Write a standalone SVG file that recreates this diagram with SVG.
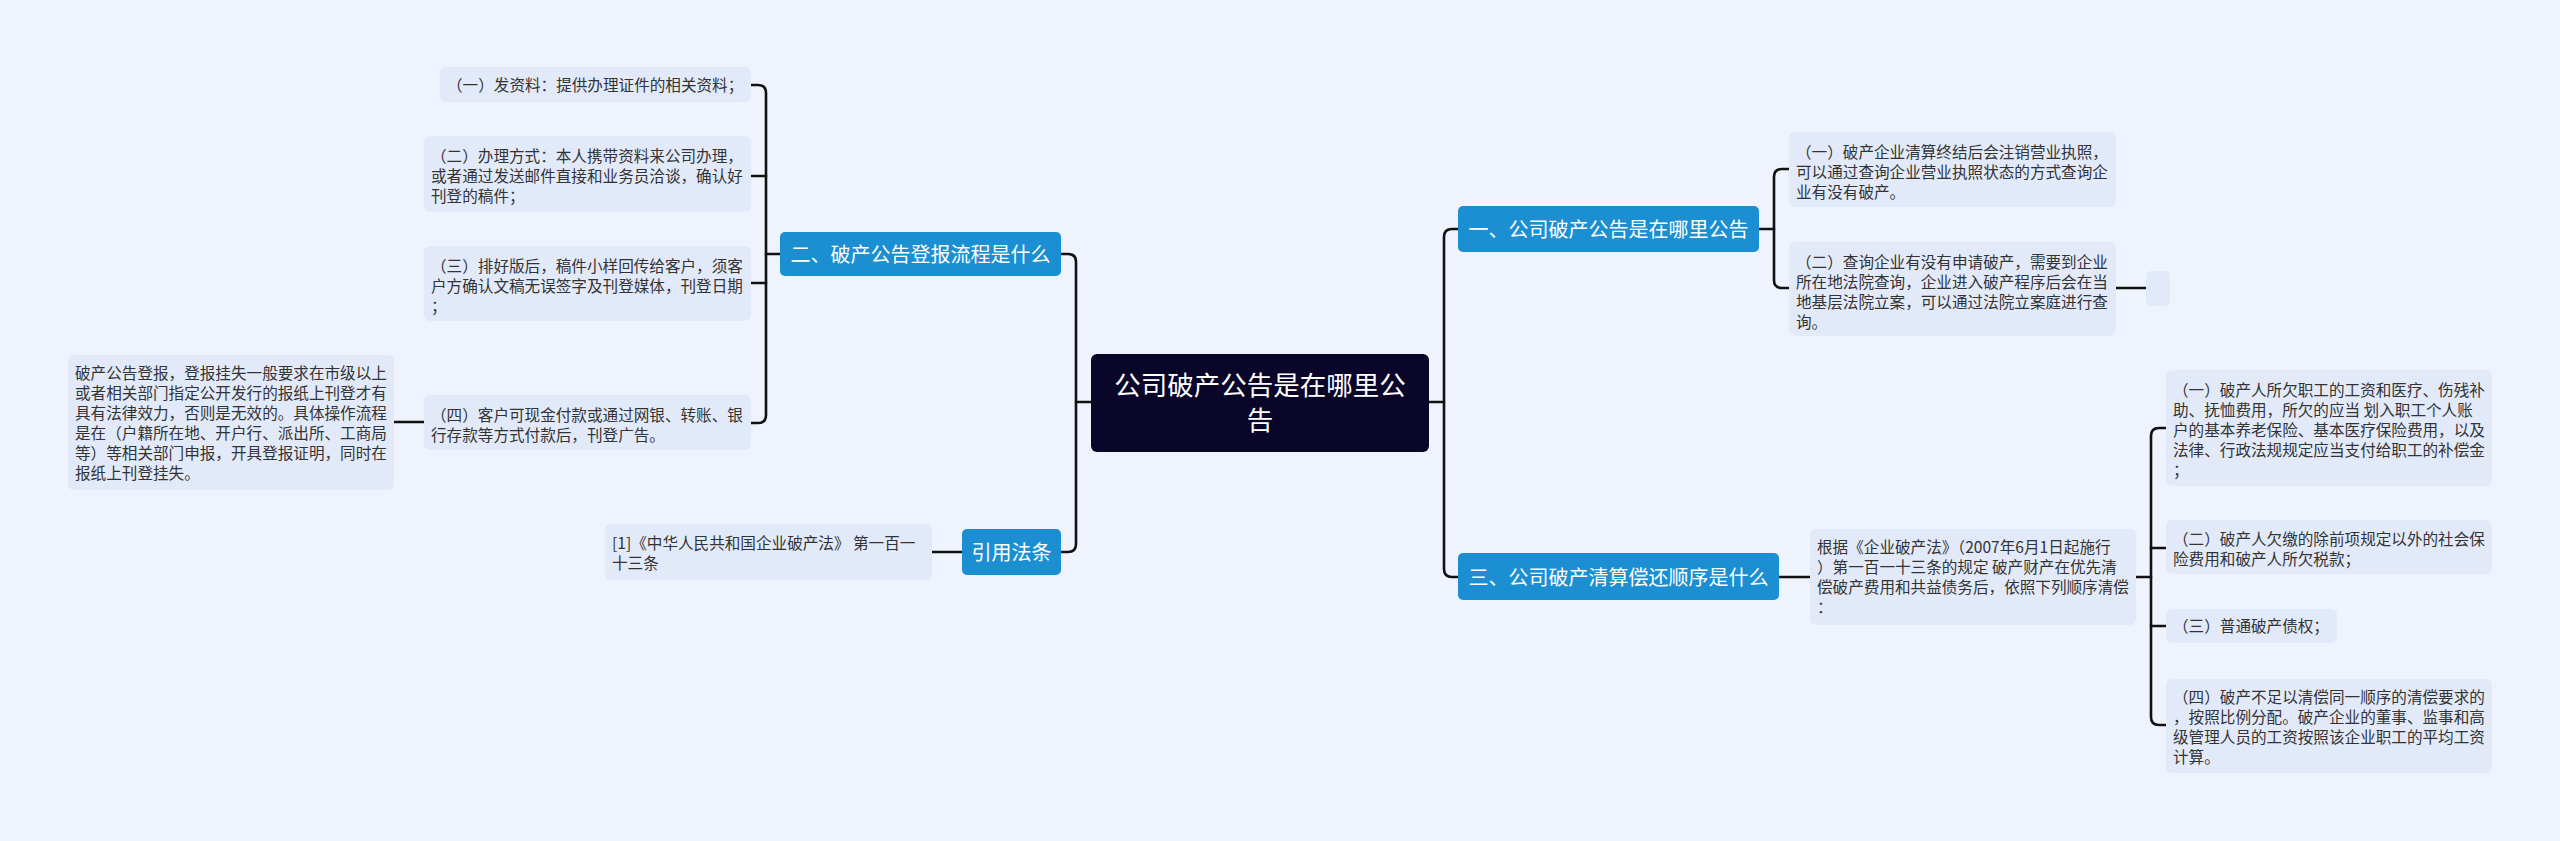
<svg xmlns="http://www.w3.org/2000/svg" width="2560" height="841" viewBox="0 0 2560 841">
<style>
.bg{fill:#eef3fd}
.leaf{fill:#e2eafa}
.br{fill:#1b8fd2}
.root{fill:#0a0629}
.lt{font-family:"Noto Sans CJK SC","Noto Sans",sans-serif;font-size:15.6px;fill:#333333}
.bt{font-family:"Noto Sans CJK SC","Noto Sans",sans-serif;font-size:20px;fill:#ffffff}
.rt{font-family:"Noto Sans CJK SC","Noto Sans",sans-serif;font-size:26.5px;fill:#ffffff}
.c{fill:none;stroke:#111111;stroke-width:2.6;stroke-linecap:round;stroke-linejoin:round}
</style>
<rect class="bg" x="0" y="0" width="2560" height="841"/>
<g id="connectors">
<path class="c" d="M1091,402 H1076"/>
<path class="c" d="M1061,254 H1068 Q1076,254 1076,262 V544 Q1076,552 1068,552 H1061"/>
<path class="c" d="M1429,402 H1444"/>
<path class="c" d="M1458,229 H1452 Q1444,229 1444,237 V569 Q1444,577 1452,577 H1458"/>
<path class="c" d="M780,254 H766"/>
<path class="c" d="M751,85 H758 Q766,85 766,93 V415 Q766,423 758,423 H751"/>
<path class="c" d="M751,176 H766"/>
<path class="c" d="M751,283 H766"/>
<path class="c" d="M424,422 H394"/>
<path class="c" d="M962,552 H932"/>
<path class="c" d="M1759,229 H1774"/>
<path class="c" d="M1789,169 H1782 Q1774,169 1774,177 V280 Q1774,288 1782,288 H1789"/>
<path class="c" d="M2116,288 H2146"/>
<path class="c" d="M1779,577 H1810"/>
<path class="c" d="M2136,577 H2151"/>
<path class="c" d="M2166,428 H2159 Q2151,428 2151,436 V717 Q2151,725 2159,725 H2166"/>
<path class="c" d="M2151,548 H2166"/>
<path class="c" d="M2151,626 H2166"/>
</g>
<g id="root">
<rect class="root" x="1091" y="354" width="338" height="98" rx="6"/>
<text class="rt" x="1260" y="395" text-anchor="middle">公司破产公告是在哪里公</text>
<text class="rt" x="1260" y="430" text-anchor="middle">告</text>
</g>
<g id="b2">
<rect class="br" x="780" y="232" width="281" height="44" rx="5"/>
<text class="bt" x="920.5" y="261.5" text-anchor="middle">二、破产公告登报流程是什么</text>
</g>
<g id="bref">
<rect class="br" x="962" y="529" width="99" height="46" rx="5"/>
<text class="bt" x="1011.5" y="559.5" text-anchor="middle">引用法条</text>
</g>
<g id="b1">
<rect class="br" x="1458" y="206" width="301" height="46" rx="5"/>
<text class="bt" x="1608.5" y="236.5" text-anchor="middle">一、公司破产公告是在哪里公告</text>
</g>
<g id="b3">
<rect class="br" x="1458" y="553" width="321" height="47" rx="5"/>
<text class="bt" x="1618.5" y="584.5" text-anchor="middle">三、公司破产清算偿还顺序是什么</text>
</g>
<g id="l1">
<rect class="leaf" x="440" y="67" width="311" height="35" rx="6"/>
<text class="lt" x="447" y="91">（一）发资料：提供办理证件的相关资料；</text>
</g>
<g id="l2">
<rect class="leaf" x="424" y="136" width="327" height="76" rx="6"/>
<text class="lt" x="431" y="162">（二）办理方式：本人携带资料来公司办理，</text>
<text class="lt" x="431" y="182">或者通过发送邮件直接和业务员洽谈，确认好</text>
<text class="lt" x="431" y="202">刊登的稿件；</text>
</g>
<g id="l3">
<rect class="leaf" x="424" y="246" width="327" height="75" rx="6"/>
<text class="lt" x="431" y="272">（三）排好版后，稿件小样回传给客户，须客</text>
<text class="lt" x="431" y="292">户方确认文稿无误签字及刊登媒体，刊登日期</text>
<text class="lt" x="431" y="312">；</text>
</g>
<g id="l4">
<rect class="leaf" x="424" y="395" width="327" height="55" rx="6"/>
<text class="lt" x="431" y="421">（四）客户可现金付款或通过网银、转账、银</text>
<text class="lt" x="431" y="441">行存款等方式付款后，刊登广告。</text>
</g>
<g id="l5">
<rect class="leaf" x="68" y="355" width="326" height="135" rx="6"/>
<text class="lt" x="75" y="379">破产公告登报，登报挂失一般要求在市级以上</text>
<text class="lt" x="75" y="399">或者相关部门指定公开发行的报纸上刊登才有</text>
<text class="lt" x="75" y="419">具有法律效力，否则是无效的。具体操作流程</text>
<text class="lt" x="75" y="439">是在（户籍所在地、开户行、派出所、工商局</text>
<text class="lt" x="75" y="459">等）等相关部门申报，开具登报证明，同时在</text>
<text class="lt" x="75" y="479">报纸上刊登挂失。</text>
</g>
<g id="ref1">
<rect class="leaf" x="605" y="524" width="327" height="56" rx="6"/>
<text class="lt" x="612" y="549">[1]《中华人民共和国企业破产法》 第一百一</text>
<text class="lt" x="612" y="569">十三条</text>
</g>
<g id="r1">
<rect class="leaf" x="1789" y="132" width="327" height="75" rx="6"/>
<text class="lt" x="1796" y="158">（一）破产企业清算终结后会注销营业执照，</text>
<text class="lt" x="1796" y="178">可以通过查询企业营业执照状态的方式查询企</text>
<text class="lt" x="1796" y="198">业有没有破产。</text>
</g>
<g id="r2">
<rect class="leaf" x="1789" y="242" width="327" height="94" rx="6"/>
<text class="lt" x="1796" y="268">（二）查询企业有没有申请破产，需要到企业</text>
<text class="lt" x="1796" y="288">所在地法院查询，企业进入破产程序后会在当</text>
<text class="lt" x="1796" y="308">地基层法院立案，可以通过法院立案庭进行查</text>
<text class="lt" x="1796" y="328">询。</text>
</g>
<g id="r2e">
<rect class="leaf" x="2146" y="271" width="24" height="35" rx="5"/>
</g>
<g id="r3">
<rect class="leaf" x="1810" y="529" width="326" height="96" rx="6"/>
<text class="lt" x="1817" y="553">根据《企业破产法》（2007年6月1日起施行</text>
<text class="lt" x="1817" y="573">）第一百一十三条的规定 破产财产在优先清</text>
<text class="lt" x="1817" y="593">偿破产费用和共益债务后，依照下列顺序清偿</text>
<text class="lt" x="1817" y="613">：</text>
</g>
<g id="r4">
<rect class="leaf" x="2166" y="370" width="326" height="116" rx="6"/>
<text class="lt" x="2173" y="396">（一）破产人所欠职工的工资和医疗、伤残补</text>
<text class="lt" x="2173" y="416">助、抚恤费用，所欠的应当 划入职工个人账</text>
<text class="lt" x="2173" y="436">户的基本养老保险、基本医疗保险费用，以及</text>
<text class="lt" x="2173" y="456">法律、行政法规规定应当支付给职工的补偿金</text>
<text class="lt" x="2173" y="476">；</text>
</g>
<g id="r5">
<rect class="leaf" x="2166" y="520" width="326" height="54" rx="6"/>
<text class="lt" x="2173" y="545">（二）破产人欠缴的除前项规定以外的社会保</text>
<text class="lt" x="2173" y="565">险费用和破产人所欠税款；</text>
</g>
<g id="r6">
<rect class="leaf" x="2166" y="609" width="171" height="34" rx="6"/>
<text class="lt" x="2173" y="632">（三）普通破产债权；</text>
</g>
<g id="r7">
<rect class="leaf" x="2166" y="679" width="326" height="94" rx="6"/>
<text class="lt" x="2173" y="703">（四）破产不足以清偿同一顺序的清偿要求的</text>
<text class="lt" x="2173" y="723">，按照比例分配。破产企业的董事、监事和高</text>
<text class="lt" x="2173" y="743">级管理人员的工资按照该企业职工的平均工资</text>
<text class="lt" x="2173" y="763">计算。</text>
</g>
</svg>
